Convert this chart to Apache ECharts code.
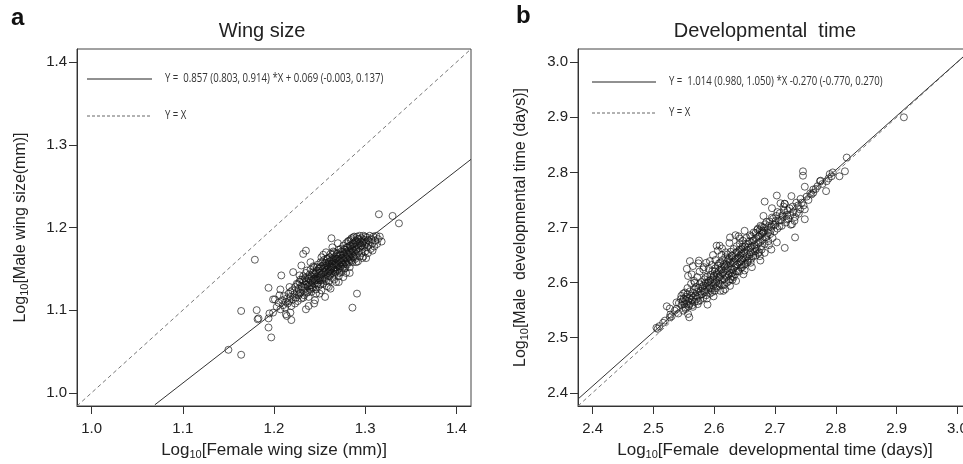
<!DOCTYPE html>
<html>
<head>
<meta charset="utf-8">
<script src="https://cdn.jsdelivr.net/npm/echarts@6/dist/echarts.min.js"></script>
<style>
  html, body { margin: 0; padding: 0; background: #fff; }
  #chart { width: 963px; height: 464px; }
</style>
</head>
<body>
<div id="chart"></div>
<script>
// Panel a: log10 wing size, [female, male]
const wingPoints = [
  [1.150,1.052],[1.164,1.046],[1.164,1.099],[1.181,1.100],[1.182,1.089],[1.183,1.090],[1.179,1.161],[1.194,1.127],
  [1.194,1.090],[1.194,1.079],[1.197,1.067],[1.195,1.096],[1.199,1.097],[1.199,1.113],[1.201,1.113],[1.206,1.118],
  [1.208,1.142],[1.207,1.125],[1.213,1.110],[1.213,1.095],[1.214,1.093],[1.219,1.088],[1.218,1.097],[1.217,1.128],
  [1.218,1.122],[1.221,1.146],[1.230,1.154],[1.235,1.101],[1.244,1.108],[1.245,1.112],[1.256,1.116],[1.286,1.103],
  [1.291,1.120],[1.263,1.187],[1.232,1.168],[1.235,1.172],[1.301,1.163],[1.315,1.216],[1.330,1.214],[1.337,1.205],
  [1.203,1.104],[1.205,1.109],[1.207,1.101],[1.209,1.112],[1.210,1.106],[1.211,1.117],[1.212,1.103],[1.214,1.114],
  [1.215,1.108],[1.216,1.120],[1.217,1.111],[1.218,1.116],[1.219,1.105],[1.220,1.124],[1.221,1.113],[1.222,1.119],
  [1.223,1.108],[1.223,1.128],[1.224,1.115],[1.225,1.122],[1.225,1.132],[1.226,1.111],[1.227,1.118],[1.227,1.126],
  [1.228,1.134],[1.229,1.121],[1.230,1.114],[1.230,1.129],[1.231,1.137],[1.232,1.124],[1.232,1.141],[1.233,1.118],
  [1.234,1.131],[1.234,1.127],[1.235,1.135],[1.235,1.145],[1.236,1.121],[1.237,1.129],[1.237,1.139],[1.238,1.133],
  [1.238,1.116],[1.239,1.126],[1.239,1.143],[1.240,1.136],[1.240,1.149],[1.241,1.130],[1.241,1.122],[1.242,1.140],
  [1.242,1.134],[1.243,1.146],[1.243,1.127],[1.244,1.138],[1.244,1.152],[1.245,1.132],[1.245,1.143],[1.246,1.125],
  [1.246,1.137],[1.247,1.148],[1.247,1.141],[1.248,1.133],[1.248,1.155],[1.249,1.129],[1.249,1.145],[1.250,1.139],
  [1.250,1.151],[1.251,1.136],[1.251,1.158],[1.252,1.143],[1.252,1.124],[1.253,1.148],[1.253,1.140],[1.254,1.154],
  [1.254,1.132],[1.255,1.146],[1.255,1.161],[1.256,1.138],[1.256,1.151],[1.257,1.144],[1.257,1.157],[1.258,1.129],
  [1.258,1.149],[1.259,1.163],[1.259,1.141],[1.260,1.153],[1.260,1.135],[1.261,1.147],[1.261,1.159],[1.262,1.144],
  [1.262,1.168],[1.263,1.151],[1.263,1.156],[1.264,1.139],[1.264,1.162],[1.265,1.148],[1.265,1.171],[1.265,1.155],
  [1.266,1.143],[1.266,1.159],[1.267,1.152],[1.267,1.165],[1.268,1.134],[1.268,1.157],[1.269,1.162],[1.269,1.147],
  [1.270,1.169],[1.270,1.154],[1.271,1.160],[1.271,1.141],[1.272,1.166],[1.272,1.151],[1.273,1.174],[1.273,1.158],
  [1.274,1.163],[1.274,1.146],[1.275,1.170],[1.275,1.156],[1.276,1.161],[1.276,1.178],[1.277,1.150],[1.277,1.167],
  [1.278,1.158],[1.278,1.173],[1.279,1.163],[1.279,1.181],[1.280,1.155],[1.280,1.169],[1.281,1.176],[1.281,1.160],
  [1.282,1.165],[1.282,1.184],[1.283,1.171],[1.283,1.152],[1.284,1.178],[1.284,1.162],[1.285,1.187],[1.285,1.168],
  [1.286,1.174],[1.286,1.158],[1.287,1.181],[1.287,1.165],[1.288,1.189],[1.288,1.171],[1.289,1.162],[1.289,1.177],
  [1.290,1.184],[1.290,1.168],[1.291,1.189],[1.291,1.174],[1.292,1.159],[1.292,1.180],[1.293,1.186],[1.293,1.171],
  [1.294,1.165],[1.294,1.190],[1.295,1.177],[1.295,1.183],[1.296,1.169],[1.296,1.187],[1.297,1.174],[1.297,1.181],
  [1.298,1.190],[1.298,1.165],[1.299,1.178],[1.299,1.185],[1.300,1.171],[1.300,1.189],[1.301,1.182],[1.302,1.176],
  [1.302,1.188],[1.303,1.169],[1.304,1.184],[1.304,1.179],[1.305,1.190],[1.306,1.174],[1.307,1.186],[1.308,1.181],
  [1.309,1.189],[1.310,1.177],[1.311,1.184],[1.312,1.190],[1.314,1.186],[1.316,1.189],[1.318,1.183],
  [1.238,1.105],[1.250,1.120],[1.262,1.126],[1.276,1.140],[1.283,1.145],[1.228,1.142],[1.240,1.158],[1.252,1.164],
  [1.264,1.176],[1.270,1.181],
  [1.231,1.128],[1.233,1.135],[1.236,1.131],[1.238,1.138],[1.239,1.130],[1.241,1.141],[1.242,1.128],[1.243,1.137],
  [1.244,1.144],[1.245,1.136],[1.246,1.146],[1.247,1.131],[1.247,1.152],[1.248,1.139],[1.249,1.150],[1.249,1.136],
  [1.250,1.145],[1.251,1.142],[1.251,1.131],[1.252,1.153],[1.253,1.137],[1.253,1.158],[1.254,1.145],[1.255,1.151],
  [1.255,1.139],[1.256,1.157],[1.257,1.148],[1.257,1.135],[1.258,1.154],[1.258,1.162],[1.259,1.145],[1.259,1.152],
  [1.260,1.158],[1.260,1.147],[1.261,1.141],[1.261,1.164],[1.262,1.153],[1.262,1.149],[1.263,1.160],[1.263,1.145],
  [1.264,1.156],[1.264,1.167],[1.265,1.151],[1.265,1.161],[1.266,1.149],[1.266,1.170],[1.267,1.157],[1.267,1.146],
  [1.268,1.162],[1.268,1.152],[1.269,1.168],[1.269,1.156],[1.270,1.162],[1.270,1.149],[1.271,1.173],[1.271,1.155],
  [1.272,1.160],[1.272,1.145],[1.273,1.167],[1.273,1.153],[1.274,1.171],[1.274,1.158],[1.275,1.163],[1.275,1.150],
  [1.276,1.168],[1.276,1.155],[1.277,1.174],[1.277,1.160],[1.278,1.164],[1.278,1.151],[1.279,1.170],[1.279,1.156],
  [1.280,1.176],[1.280,1.162],[1.281,1.167],[1.281,1.183],[1.282,1.172],[1.282,1.158],[1.283,1.178],[1.283,1.164],
  [1.284,1.169],[1.284,1.185],[1.285,1.174],[1.285,1.160],[1.286,1.180],[1.286,1.167],[1.287,1.172],[1.287,1.188],
  [1.288,1.177],[1.288,1.164],[1.289,1.183],[1.290,1.173],[1.291,1.179],[1.292,1.186],[1.293,1.175],[1.294,1.181],
  [1.296,1.178],[1.298,1.183],[1.300,1.180],[1.303,1.185],
  [1.226,1.131],[1.228,1.120],[1.229,1.137],[1.232,1.115],[1.234,1.139],[1.236,1.148],[1.237,1.122],[1.240,1.125],
  [1.243,1.153],[1.246,1.120],[1.254,1.167],[1.257,1.170],[1.260,1.128],[1.266,1.137],[1.271,1.134],[1.279,1.145],
  [1.290,1.158],[1.297,1.163],[1.308,1.172],[1.313,1.180]
];
const wingFit = [[1.0694, 0.9855], [1.416, 1.2825]];
const wingIdentity = [[0.984, 0.984], [1.416, 1.416]];

// Panel b: log10 developmental time, [female, male]
const devPoints = [
  [2.505,2.518],[2.507,2.516],[2.510,2.521],[2.516,2.527],[2.519,2.531],[2.522,2.557],[2.527,2.537],[2.528,2.542],
  [2.530,2.539],[2.527,2.553],[2.535,2.549],[2.538,2.552],[2.538,2.564],[2.541,2.544],[2.542,2.563],[2.546,2.576],
  [2.549,2.549],[2.552,2.582],[2.557,2.543],[2.559,2.537],[2.560,2.639],[2.557,2.612],[2.563,2.615],[2.568,2.600],
  [2.574,2.635],[2.587,2.636],[2.593,2.639],[2.604,2.667],[2.609,2.667],
  [2.546,2.559],[2.548,2.566],[2.550,2.571],[2.551,2.561],[2.552,2.555],[2.553,2.568],[2.554,2.574],[2.555,2.562],
  [2.556,2.579],[2.557,2.566],[2.558,2.557],[2.559,2.571],[2.560,2.584],[2.561,2.563],[2.562,2.576],[2.563,2.569],
  [2.564,2.559],[2.565,2.581],[2.566,2.573],[2.567,2.588],[2.568,2.565],[2.569,2.577],[2.570,2.592],
  [2.571,2.570],[2.572,2.583],[2.573,2.561],[2.574,2.590],[2.575,2.576],[2.576,2.597],[2.577,2.568],[2.578,2.584],
  [2.579,2.601],[2.580,2.579],[2.581,2.590],[2.582,2.572],[2.583,2.595],[2.584,2.606],[2.585,2.583],[2.586,2.599],
  [2.587,2.577],[2.588,2.592],[2.589,2.611],[2.590,2.586],[2.591,2.603],[2.592,2.595],[2.593,2.580],[2.594,2.614],
  [2.595,2.599],[2.596,2.589],[2.597,2.621],[2.598,2.606],[2.599,2.594],
  [2.600,2.612],[2.601,2.585],[2.602,2.626],[2.603,2.601],[2.604,2.617],[2.605,2.593],[2.606,2.631],[2.607,2.608],
  [2.608,2.622],[2.609,2.598],[2.610,2.636],[2.611,2.613],[2.612,2.628],[2.613,2.604],[2.614,2.641],[2.615,2.619],
  [2.616,2.633],[2.617,2.596],[2.618,2.646],[2.619,2.624],[2.620,2.610],[2.621,2.638],[2.622,2.651],[2.623,2.629],
  [2.624,2.603],[2.625,2.643],[2.626,2.617],[2.627,2.656],[2.628,2.634],[2.629,2.611],
  [2.630,2.648],[2.631,2.624],[2.632,2.661],[2.633,2.639],[2.634,2.615],[2.635,2.653],[2.636,2.630],[2.637,2.666],
  [2.638,2.644],[2.639,2.621],[2.640,2.657],[2.641,2.636],[2.642,2.671],[2.643,2.649],[2.644,2.627],[2.645,2.661],
  [2.646,2.641],[2.647,2.676],[2.648,2.653],[2.649,2.632],[2.650,2.666],[2.652,2.646],[2.653,2.681],[2.654,2.659],
  [2.655,2.637],[2.656,2.671],[2.658,2.651],[2.659,2.686],
  [2.660,2.663],[2.661,2.643],[2.663,2.676],[2.664,2.656],[2.665,2.691],[2.666,2.668],[2.668,2.649],[2.669,2.681],
  [2.670,2.661],[2.671,2.696],[2.673,2.673],[2.674,2.655],[2.675,2.686],[2.677,2.666],[2.678,2.701],[2.680,2.678],
  [2.681,2.691],[2.683,2.670],[2.684,2.706],[2.686,2.683],[2.688,2.696],[2.689,2.675],[2.691,2.711],[2.692,2.688],
  [2.694,2.701],[2.696,2.681],[2.697,2.716],[2.699,2.693],
  [2.700,2.706],[2.702,2.721],[2.703,2.673],[2.704,2.698],[2.706,2.712],[2.708,2.726],[2.709,2.744],[2.710,2.713],
  [2.711,2.703],[2.713,2.719],[2.715,2.731],[2.716,2.663],[2.716,2.743],[2.718,2.709],[2.720,2.723],[2.722,2.716],
  [2.724,2.735],[2.726,2.705],[2.727,2.757],[2.728,2.706],[2.730,2.728],[2.733,2.682],[2.733,2.719],[2.736,2.727],
  [2.738,2.740],[2.741,2.733],[2.744,2.745],[2.746,2.802],[2.746,2.794],[2.749,2.733],[2.749,2.715],[2.749,2.774],
  [2.752,2.756],[2.755,2.750],[2.758,2.762],[2.760,2.760],[2.763,2.769],[2.763,2.763],[2.767,2.770],[2.770,2.775],
  [2.774,2.784],[2.775,2.785],[2.778,2.779],[2.784,2.766],[2.785,2.784],[2.788,2.789],[2.790,2.797],[2.793,2.793],
  [2.795,2.800],[2.806,2.793],[2.815,2.802],[2.818,2.827],[2.912,2.900],
  [2.667,2.657],[2.683,2.654],[2.683,2.747],[2.681,2.721],[2.680,2.691],[2.695,2.735],[2.703,2.758],[2.716,2.743],
  [2.626,2.682],[2.635,2.686],[2.642,2.680],[2.672,2.698],[2.676,2.703],[2.679,2.694],
  [2.610,2.585],[2.630,2.605],[2.650,2.622],[2.675,2.648],[2.690,2.668],[2.618,2.588],[2.626,2.594],[2.645,2.633],
  [2.655,2.640],[2.660,2.636],
  [2.545,2.570],[2.549,2.580],[2.553,2.552],[2.556,2.590],[2.559,2.560],[2.562,2.598],[2.565,2.556],[2.567,2.603],
  [2.570,2.575],[2.572,2.610],[2.574,2.566],[2.576,2.620],[2.578,2.579],[2.580,2.593],[2.582,2.624],[2.584,2.586],
  [2.586,2.610],[2.588,2.571],[2.590,2.600],[2.591,2.625],[2.593,2.590],[2.594,2.605],[2.596,2.632],[2.597,2.583],
  [2.599,2.612],[2.600,2.598],[2.601,2.620],[2.602,2.641],[2.603,2.590],[2.604,2.606],[2.606,2.615],[2.607,2.599],
  [2.608,2.635],[2.609,2.610],[2.611,2.623],[2.612,2.650],[2.613,2.595],[2.614,2.617],[2.616,2.606],[2.617,2.629],
  [2.618,2.614],[2.619,2.655],[2.620,2.632],[2.621,2.600],[2.622,2.621],[2.623,2.642],[2.624,2.614],[2.626,2.636],
  [2.627,2.606],[2.628,2.624],[2.629,2.649],[2.630,2.618],[2.631,2.637],[2.632,2.610],[2.633,2.628],[2.635,2.643],
  [2.636,2.621],[2.637,2.655],[2.638,2.633],[2.640,2.646],[2.641,2.620],[2.642,2.660],[2.643,2.638],[2.645,2.652],
  [2.646,2.628],[2.647,2.665],[2.648,2.644],[2.650,2.656],[2.651,2.634],[2.652,2.670],[2.654,2.648],[2.655,2.664],
  [2.657,2.643],[2.658,2.675],[2.660,2.655],[2.661,2.684],[2.662,2.666],[2.664,2.648],[2.665,2.677],[2.667,2.662],
  [2.668,2.690],[2.670,2.670],[2.672,2.653],[2.673,2.684],[2.675,2.695],[2.676,2.674],[2.678,2.660],[2.679,2.688],
  [2.682,2.700],[2.684,2.682],[2.686,2.710],[2.688,2.690],[2.690,2.703],[2.693,2.695],[2.695,2.718],[2.698,2.705],
  [2.701,2.712],[2.704,2.728],[2.707,2.702],[2.712,2.722],[2.714,2.738],[2.719,2.715],[2.721,2.731],[2.725,2.722],
  [2.729,2.738],[2.732,2.712],[2.735,2.745],[2.739,2.725],[2.742,2.752],[2.747,2.740],
  [2.555,2.625],[2.565,2.630],[2.575,2.640],[2.583,2.628],[2.598,2.650],[2.606,2.658],[2.613,2.662],[2.625,2.672],
  [2.640,2.684],[2.650,2.694],[2.589,2.560],[2.599,2.575],[2.615,2.585],[2.636,2.603],[2.648,2.615],[2.662,2.628],
  [2.676,2.640],[2.694,2.660]
];
const devFit = [[2.376, 2.3886], [3.024, 3.024]];
const devIdentity = [[2.376, 2.376], [3.024, 3.024]];

const wingTicks = [1.0, 1.1, 1.2, 1.3, 1.4];
const devTicks = [2.4, 2.5, 2.6, 2.7, 2.8, 2.9, 3.0];

const wingFitLabel = 'Y =  0.857 (0.803, 0.914) *X + 0.069 (-0.003, 0.137)';
const devFitLabel = 'Y =  1.014 (0.980, 1.050) *X -0.270 (-0.770, 0.270)';
const identityLabel = 'Y = X';

const FONT = '"Liberation Sans", Arial, sans-serif';
const KEY_FONT = '12px "Open Sans", sans-serif';

const chart = echarts.init(document.getElementById('chart'), null, { renderer: 'canvas' });

const axisCommon = (ticks, min, max, labelMargin) => ({
  type: 'value',
  min,
  max,
  axisLine: { show: true, lineStyle: { color: '#333', width: 1 } },
  axisTick: { show: true, length: 8, customValues: ticks, lineStyle: { color: '#333' } },
  axisLabel: {
    customValues: ticks,
    formatter: v => v.toFixed(1),
    margin: labelMargin,
    color: '#222',
    fontFamily: FONT,
    fontSize: 15
  },
  splitLine: { show: false }
});

const nameStyle = {
  color: '#222',
  fontFamily: FONT,
  fontSize: 17,
  rich: {
    sub: { fontSize: 11, fontFamily: FONT, color: '#222', verticalAlign: 'bottom', padding: [8, 0, 0, 0] }
  }
};

const scatterStyle = {
  color: 'rgba(0,0,0,0)',
  borderColor: 'rgba(20,20,20,0.85)',
  borderWidth: 1
};

// key drawn inside each panel: a short line sample followed by its label
const keyRow = (x1, x2, y, dashed, label) => [
  {
    type: 'line', silent: true,
    shape: { x1, y1: y, x2, y2: y },
    style: dashed ? { stroke: '#666', lineWidth: 1, lineDash: [3, 2] } : { stroke: '#222', lineWidth: 1 }
  },
  {
    type: 'text', silent: true, x: x2 + 13, y, scaleX: 0.8,
    style: { text: label, font: KEY_FONT, fill: '#333', verticalAlign: 'middle' }
  }
];

const option = {
  animation: false,
  backgroundColor: '#fff',
  grid: [
    { left: 77, top: 49, width: 394, height: 357, show: true, borderColor: '#444', borderWidth: 1, outerBoundsMode: 'none' },
    { left: 578, top: 49, width: 394, height: 357, show: true, borderColor: '#444', borderWidth: 1, outerBoundsMode: 'none' }
  ],
  xAxis: [
    Object.assign(axisCommon(wingTicks, 0.984, 1.416, 15), {
      gridIndex: 0,
      name: 'Log{sub|10}[Female wing size (mm)]',
      nameLocation: 'middle',
      nameGap: 35,
      nameTextStyle: nameStyle
    }),
    Object.assign(axisCommon(devTicks, 2.376, 3.024, 15), {
      gridIndex: 1,
      name: 'Log{sub|10}[Female  developmental time (days)]',
      nameLocation: 'middle',
      nameGap: 35,
      nameTextStyle: nameStyle
    })
  ],
  yAxis: [
    Object.assign(axisCommon(wingTicks, 0.984, 1.416, 10), {
      gridIndex: 0,
      name: 'Log{sub|10}[Male wing size(mm)]',
      nameLocation: 'middle',
      nameGap: 47,
      nameTextStyle: Object.assign({}, nameStyle, { fontSize: 16 })
    }),
    Object.assign(axisCommon(devTicks, 2.376, 3.024, 10), {
      gridIndex: 1,
      name: 'Log{sub|10}[Male  developmental time (days)]',
      nameLocation: 'middle',
      nameGap: 48,
      nameTextStyle: Object.assign({}, nameStyle, { fontSize: 16 })
    })
  ],
  graphic: [
    { type: 'text', left: 11, top: 6, style: { text: 'a', font: 'bold 24px "Liberation Sans", Arial, sans-serif', fill: '#111' } },
    { type: 'text', left: 516, top: 4, style: { text: 'b', font: 'bold 24px "Liberation Sans", Arial, sans-serif', fill: '#111' } },
    { type: 'text', x: 262, y: 31, style: { text: 'Wing size', font: '20px "Liberation Sans", Arial, sans-serif', fill: '#222', align: 'center', verticalAlign: 'middle' } },
    { type: 'text', x: 765, y: 31, style: { text: 'Developmental  time', font: '20px "Liberation Sans", Arial, sans-serif', fill: '#222', align: 'center', verticalAlign: 'middle' } },
    ...keyRow(87, 152, 79, false, wingFitLabel),
    ...keyRow(87, 152, 116, true, identityLabel),
    ...keyRow(592, 656, 82, false, devFitLabel),
    ...keyRow(592, 656, 113, true, identityLabel)
  ],
  series: [
    {
      type: 'scatter', xAxisIndex: 0, yAxisIndex: 0, data: wingPoints,
      symbol: 'circle', symbolSize: 7, itemStyle: scatterStyle, silent: true
    },
    {
      type: 'line', xAxisIndex: 0, yAxisIndex: 0, data: wingFit,
      symbol: 'none', lineStyle: { color: '#333', width: 1 }, silent: true
    },
    {
      type: 'line', xAxisIndex: 0, yAxisIndex: 0, data: wingIdentity,
      symbol: 'none', lineStyle: { color: '#777', width: 1, type: [4, 3] }, silent: true
    },
    {
      type: 'scatter', xAxisIndex: 1, yAxisIndex: 1, data: devPoints,
      symbol: 'circle', symbolSize: 7, itemStyle: scatterStyle, silent: true
    },
    {
      type: 'line', xAxisIndex: 1, yAxisIndex: 1, data: devIdentity,
      symbol: 'none', lineStyle: { color: '#777', width: 1, type: [4, 3] }, silent: true
    },
    {
      type: 'line', xAxisIndex: 1, yAxisIndex: 1, data: devFit,
      symbol: 'none', lineStyle: { color: '#333', width: 1 }, silent: true
    }
  ]
};

chart.setOption(option);
</script>
</body>
</html>
